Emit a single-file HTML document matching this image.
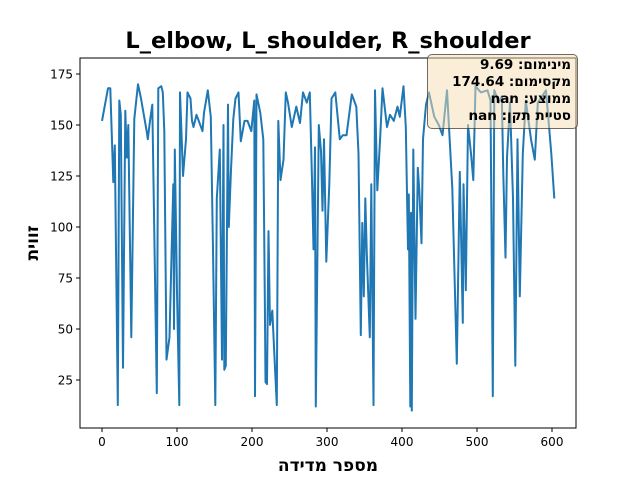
<!DOCTYPE html>
<html><head><meta charset="utf-8">
<style>
html,body{margin:0;padding:0;background:#fff;}
#wrap{position:relative;width:640px;height:480px;overflow:hidden;font-family:"DejaVu Sans","Liberation Sans",sans-serif;}
svg{position:absolute;left:0;top:0;}
#stats{position:absolute;left:427px;top:54px;width:151px;height:75px;box-sizing:border-box;border:1px solid rgba(0,0,0,0.55);border-radius:5px;background:rgba(245,222,179,0.5);direction:rtl;text-align:right;padding:2px 6px 0 0;font-weight:bold;font-size:13.5px;line-height:17px;color:#000;}
</style></head><body>
<div id="wrap">
<svg id="chart" width="640" height="480"></svg>
<div id="stats">
<div>מינימום: 9.69</div>
<div>מקסימום: 174.64</div>
<div>ממוצע: nan</div>
<div>סטיית תקן: nan</div>
</div>
</div>
<script>
const idx = [0,8,11,15,17,21,23,25,28,31,33,35,39,43,48,52,60,61,64,67,73,75,79,81,83,86,90,95,96,97,100,103,104,106,108,112,114,118,120,122,126,134,136,141,145,148,151,153,157,160,162,163,165,168,169,172,175,178,182,185,190,194,199,203,204,206,211,215,217,218,220,222,224,227,230,233,235,238,242,245,248,253,259,264,268,273,277,280,282,284,285,289,292,294,296,299,303,306,311,317,321,326,333,339,342,345,347,349,351,353,357,359,362,364,367,371,374,380,384,389,394,397,402,405,408,409,411,412,413,415,418,421,423,426,428,432,436,443,449,454,460,467,473,477,481,482,485,488,492,495,498,505,514,518,521,523,529,533,535,538,540,544,548,551,554,557,561,565,572,577,581,592,599,603];
const vals = [152,168,168,122,140,12.7,162,155,31,157,134,150,46,153,170,163,146,143,152,160,18.6,168,169,166,147,35,46,121,50,138,68,12.7,166,146,125,143,166,163,152,149,155,147,156,167,154,89,12.7,114,138,35,150,30,32,160,100,128,153,163,166,142,152,152,147,162,17,165,156,143,66,24,23,98,52,59,36,12.7,152,123,133,166,161,149,159,151,166,161,166,123,89,139,12,150,137,108,143,83,121,163,166,143,145,145,165,159,136,47,102,66,114,87,46,121,12.7,167,118,145,168,149,155,152,159,154,169,149,89,116,12,107,10,138,55,129,118,92,143,160,166,154,150,145,167,119,33,127,53,121,69,150,136,123,169,166,167,162,17,167,161,164,126,85,134,161,114,32,143,66,136,162,143,133,161,167,136,114];
const xTicks = [0,100,200,300,400,500,600];
const yTicks = [25,50,75,100,125,150,175];

const L=80,R=576,T=58,B=428;
const xs = v => 102 + v*0.75;
const ys = v => 380 - (v-25)*2.04;
const svg = document.getElementById('chart');
const NS='http://www.w3.org/2000/svg';
function mk(tag, attrs, parent){const e=document.createElementNS(NS,tag);for(const k in attrs)e.setAttribute(k,attrs[k]);(parent||svg).appendChild(e);return e;}

const title = mk('text',{x:328,y:48,'text-anchor':'middle','font-size':'22.5','font-weight':'bold','font-family':'DejaVu Sans, Liberation Sans, sans-serif'});
title.textContent='L_elbow, L_shoulder, R_shoulder';



let d='';
for(let i=0;i<idx.length;i++){d+=(i?'L':'M')+xs(idx[i]).toFixed(1)+' '+ys(vals[i]).toFixed(1);}
const line = mk('path',{d:d,fill:'none',stroke:'#1f77b4','stroke-width':'2','stroke-linejoin':'round'});



const frame = mk('rect',{x:L,y:T,width:R-L,height:B-T,fill:'none',stroke:'#000','stroke-width':'1'});



xTicks.forEach(t=>{
  const x=xs(t);
  const tk=mk('line',{x1:x,x2:x,y1:B,y2:B+4,stroke:'#000'});
  
  
  const lb=mk('text',{x:x,y:B+18,'text-anchor':'middle','font-size':'12','font-family':'DejaVu Sans, sans-serif'});
  lb.textContent=t;
  
  
});
yTicks.forEach(t=>{
  const y=ys(t);
  const tk=mk('line',{x1:L-4,x2:L,y1:y,y2:y,stroke:'#000'});
  
  
  const lb=mk('text',{x:L-7,y:y+4.5,'text-anchor':'end','font-size':'12','font-family':'DejaVu Sans, sans-serif'});
  lb.textContent=t;
  
  
});
const xl=mk('text',{x:328,y:471,'text-anchor':'middle','font-size':'17','font-weight':'bold','direction':'rtl','font-family':'DejaVu Sans, sans-serif'});
xl.textContent='מספר מדידה';


const yl=mk('text',{x:0,y:0,'text-anchor':'middle','font-size':'17','font-weight':'bold','direction':'rtl','font-family':'DejaVu Sans, sans-serif',transform:'translate(38,243) rotate(-90)'});
yl.textContent='זווית';


</script>
</body></html>
